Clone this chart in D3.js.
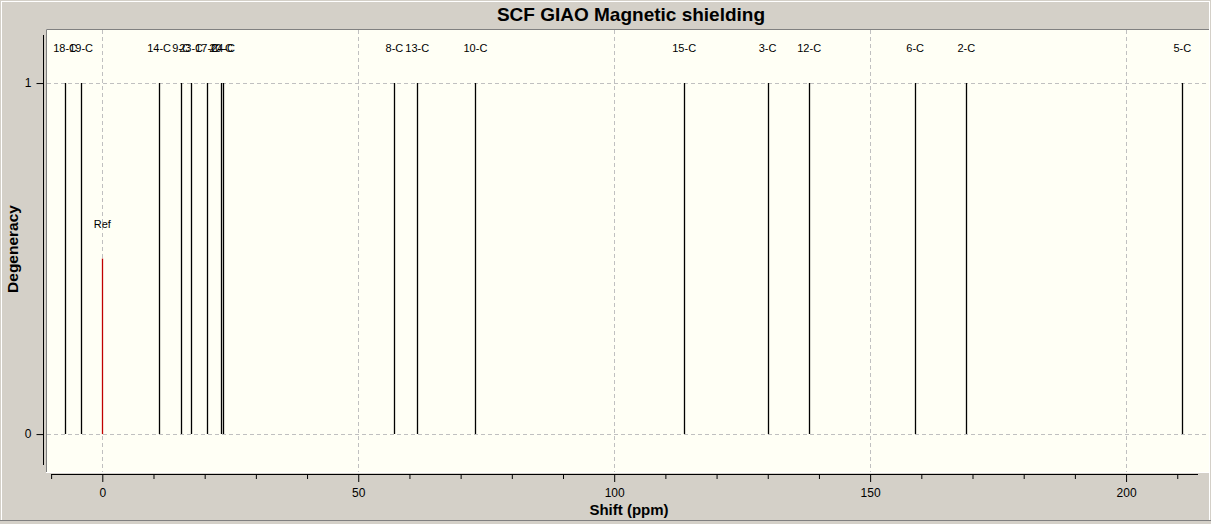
<!DOCTYPE html>
<html>
<head>
<meta charset="utf-8">
<script src="https://cdn.jsdelivr.net/npm/d3@7"></script>
<style>
  body { margin: 0; background: #d4d0c8; }
  svg { display: block; font-family: "Liberation Sans", Arial, sans-serif; }
</style>
</head>
<body>
<script>
// peak labels, shifts (ppm) and degeneracy
var peakLabels = ["18-C","19-C","14-C","9-C","23-C","17-C","20-C","24-C","8-C","13-C","10-C","15-C","3-C","12-C","6-C","2-C","5-C"];
var peakShifts = [-7.27,-4.14,11.09,15.39,17.34,20.47,23.20,23.59,57.07,61.52,72.89,113.67,129.96,138.09,158.8,168.8,211.0];
var peakDegen  = [1,1,1,1,1,1,1,1,1,1,1,1,1,1,1,1,1];
var refShift = [0];
var refHeight = [0.5];
var xTicks = [0,50,100,150,200];
var yTicks = [0,1];

var W = 1211, H = 524;
var plot = {left: 46, right: 1209, top: 29, bottom: 472};

var svg = d3.select('body').append('svg')
    .attr('width', W)
    .attr('height', H);

// window frame
svg.append('rect').attr('x', 0).attr('y', 0).attr('width', W).attr('height', H).attr('fill', '#d4d0c8');
svg.append('rect').attr('x', 1.5).attr('y', 1.5).attr('width', W - 3).attr('height', H - 5)
    .attr('fill', 'none').attr('stroke', '#ffffff');
svg.append('line').attr('x1', 0).attr('x2', W).attr('y1', H - 3.5).attr('y2', H - 3.5).attr('stroke', '#808080');

var x = d3.scaleLinear().domain([-11.0, 216.2]).range([plot.left, plot.right]);
var y = d3.scaleLinear().domain([-0.108, 1.154]).range([plot.bottom, plot.top]);

// plot background (sunken)
svg.append('rect')
    .attr('x', plot.left).attr('y', plot.top)
    .attr('width', plot.right - plot.left).attr('height', plot.bottom - plot.top)
    .attr('fill', '#fffff5');
svg.append('path')
    .attr('d', 'M' + (plot.left + 0.5) + ',' + plot.bottom + 'V' + (plot.top + 0.5) + 'H' + plot.right)
    .attr('fill', 'none').attr('stroke', '#808080');
svg.append('line')
    .attr('x1', plot.left).attr('x2', plot.right)
    .attr('y1', plot.bottom + 0.5).attr('y2', plot.bottom + 0.5)
    .attr('stroke', '#ffffff');

// grid
svg.selectAll('.vgrid').data(xTicks).enter().append('line')
    .attr('x1', function(d){ return Math.round(x(d)) + 0.5; })
    .attr('x2', function(d){ return Math.round(x(d)) + 0.5; })
    .attr('y1', plot.top + 1).attr('y2', plot.bottom)
    .attr('stroke', '#c0c0c0').attr('stroke-dasharray', '4,3');
svg.selectAll('.hgrid').data(yTicks).enter().append('line')
    .attr('y1', function(d){ return Math.round(y(d)) + 0.5; })
    .attr('y2', function(d){ return Math.round(y(d)) + 0.5; })
    .attr('x1', plot.left + 1).attr('x2', plot.right)
    .attr('stroke', '#c0c0c0').attr('stroke-dasharray', '4,3');

// peaks
var peaks = peakShifts.map(function(s, i){ return {label: peakLabels[i], shift: s, deg: peakDegen[i]}; });
svg.selectAll('.peak').data(peaks).enter().append('line')
    .attr('x1', function(d){ return Math.round(x(d.shift)) + 0.5; })
    .attr('x2', function(d){ return Math.round(x(d.shift)) + 0.5; })
    .attr('y1', y(0)).attr('y2', function(d){ return y(d.deg); })
    .attr('stroke', '#000').attr('stroke-width', 1.3);
svg.selectAll('.plabel').data(peaks).enter().append('text')
    .attr('x', function(d){ return x(d.shift); })
    .attr('y', 52)
    .attr('text-anchor', 'middle')
    .attr('font-size', 11)
    .attr('fill', '#000')
    .text(function(d){ return d.label; });

// reference line
svg.selectAll('.ref').data(refShift).enter().append('line')
    .attr('x1', function(d){ return Math.round(x(d)) + 0.5; })
    .attr('x2', function(d){ return Math.round(x(d)) + 0.5; })
    .attr('y1', y(0)).attr('y2', function(d, i){ return y(refHeight[i]); })
    .attr('stroke', '#c00000').attr('stroke-width', 1.3);
svg.selectAll('.reflabel').data(refShift).enter().append('text')
    .attr('x', function(d){ return x(d); })
    .attr('y', 228)
    .attr('text-anchor', 'middle')
    .attr('font-size', 11)
    .text('Ref');

// x axis
var xAxis = d3.axisBottom(x)
    .tickValues(d3.range(-10, 211, 10))
    .tickSize(5)
    .tickFormat(function(d){ return xTicks.indexOf(d) >= 0 ? d : ''; });
var gx = svg.append('g').attr('transform', 'translate(0,474)').call(xAxis);
gx.select('.domain').attr('d', 'M' + x(-10) + ',0.5H' + 1198);
gx.selectAll('.tick line')
    .attr('y2', function(d){ return xTicks.indexOf(d) >= 0 ? 8 : 5; });
gx.selectAll('.tick text').attr('y', 23).attr('dy', 0).attr('font-size', 12)
    .attr('font-family', '"Liberation Sans", Arial, sans-serif');

// y axis
var yAxis = d3.axisLeft(y).tickValues(yTicks).tickSize(7).tickFormat(d3.format('d'));
var gy = svg.append('g').attr('transform', 'translate(43.5,0)').call(yAxis);
gy.select('.domain').attr('d', 'M0,35V465');
gy.selectAll('.tick text').attr('x', -12).attr('font-size', 12)
    .attr('font-family', '"Liberation Sans", Arial, sans-serif');

// titles
svg.append('text')
    .attr('x', 631).attr('y', 21)
    .attr('text-anchor', 'middle')
    .attr('font-size', 19).attr('font-weight', 'bold')
    .text('SCF GIAO Magnetic shielding');
svg.append('text')
    .attr('x', 629).attr('y', 515)
    .attr('text-anchor', 'middle')
    .attr('font-size', 15).attr('font-weight', 'bold')
    .text('Shift (ppm)');
svg.append('text')
    .attr('transform', 'translate(18,249) rotate(-90)')
    .attr('text-anchor', 'middle')
    .attr('font-size', 15.5).attr('font-weight', 'bold')
    .text('Degeneracy');
</script>
</body>
</html>
